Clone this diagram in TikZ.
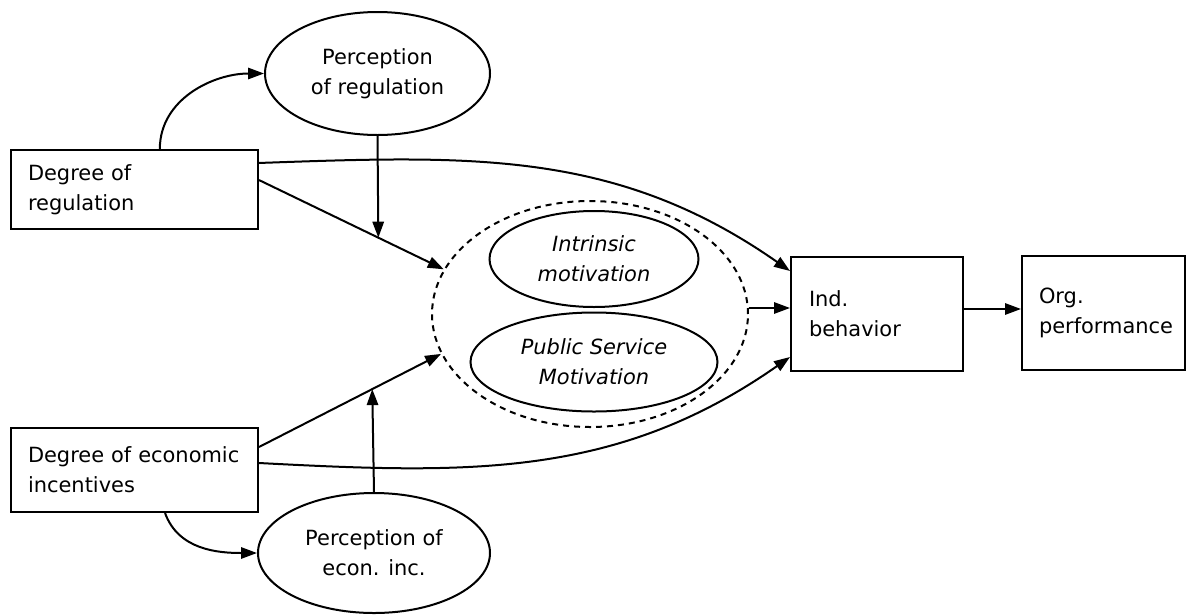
\documentclass[tikz,border=0pt]{standalone}
\usepackage{fontspec}
\setmainfont{DejaVu Sans}
\usetikzlibrary{shapes.geometric,arrows.meta,calc}
\begin{document}
\begin{tikzpicture}[x=0.75pt,y=0.75pt,
  every node/.style={font=\fontsize{15.7}{22.5}\selectfont},
  box/.style={draw, rectangle, line width=1.5pt, align=left, inner ysep=0pt},
  oval/.style={draw, ellipse, line width=1.5pt, inner sep=0pt, align=center},
  arr/.style={line width=1.5pt, -{Triangle[length=12pt,width=8.5pt]}}]
\useasboundingbox (0,0) rectangle (1189,-615);

% boxes
\node[box, minimum width=185.25pt, minimum height=59.25pt, text width=159.75pt, inner xsep=12.75pt]
  (reg) at (134.5,-189.5) {Degree~of\\regulation};
\node[box, minimum width=185.25pt, minimum height=63pt, text width=159.75pt, inner xsep=12.75pt]
  (econ) at (134.5,-470) {Degree~of~economic\\incentives};
\node[box, minimum width=129pt, minimum height=85.5pt, text width=102pt, inner xsep=13.5pt]
  (ib) at (877,-314) {Ind.\\behavior};
\node[box, minimum width=122.25pt, minimum height=85.5pt, text width=96.75pt, inner xsep=12.75pt]
  (org) at (1103.5,-313) {Org.\\performance};

% ellipses
\node[oval, minimum width=168.75pt, minimum height=92.25pt] (pr) at (377.5,-73.5) {Perception\\of regulation};
\node[oval, minimum width=174pt, minimum height=90pt] (pe) at (374,-553) {Perception of\\econ. inc.};
\node[oval, dashed, dash pattern=on 4.5pt off 3.75pt, minimum width=237pt, minimum height=169.5pt] (mot) at (590,-314) {};
\node[oval, minimum width=156.75pt, minimum height=72pt, font=\fontsize{15.7}{22.5}\selectfont\itshape] (im) at (594,-259) {Intrinsic\\motivation};
\node[oval, minimum width=185.25pt, minimum height=74.25pt, font=\fontsize{15.7}{22.5}\selectfont\itshape] (psm) at (594,-362) {Public Service\\Motivation};

% regulation paths
\draw[arr] ([xshift=19pt]reg.north) to[out=90,in=180] (pr.west);
\draw[arr] ([yshift=7.1pt]reg.east) -- (mot.163);
\path ([yshift=7.1pt]reg.east) -- (mot.163) coordinate[pos=0.646] (j1);
\draw[arr] (pr.south) -- (j1);
\draw[arr] ([yshift=19.9pt]reg.east) to[out=2,in=145] ([yshift=-11.25pt]ib.north west);

% incentive paths
\draw[arr] ([xshift=22.9pt]econ.south) to[out=-70,in=180] (pe.west);
\draw[arr] ([yshift=17.25pt]econ.east) -- (mot.195);
\path ([yshift=17.25pt]econ.east) -- (mot.195) coordinate[pos=0.622] (j2);
\draw[arr] (pe.north) -- (j2);
\draw[arr] ([yshift=5.25pt]econ.east) to[out=-3,in=-145] ([yshift=11.25pt]ib.south west);

% outcome chain
\draw[arr] ([yshift=4.5pt]mot.east) -- ([yshift=4.5pt]mot.east -| ib.west);
\draw[arr] ([yshift=3.75pt]ib.east) -- ([yshift=3.75pt]ib.east -| org.west);
\end{tikzpicture}
\end{document}
